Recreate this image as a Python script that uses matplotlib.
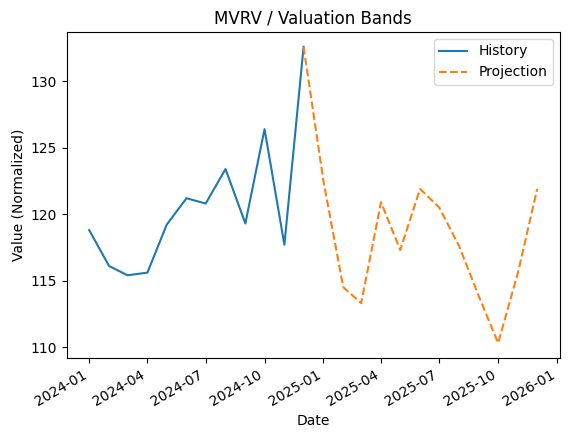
import matplotlib
matplotlib.use("Agg")
import matplotlib.pyplot as plt
import pandas as pd

hist_dates = pd.date_range("2024-01-01", "2024-12-01", freq="MS")
hist_vals = [118.8, 116.1, 115.4, 115.6, 119.2, 121.2, 120.8, 123.4, 119.3, 126.4, 117.7, 132.6]
proj_dates = pd.date_range("2024-12-01", "2025-12-01", freq="MS")
proj_vals = [132.6, 122.5, 114.5, 113.3, 120.9, 117.3, 121.9, 120.5, 117.6, 113.8, 110.3, 115.6, 121.9]

fig, ax = plt.subplots(figsize=(5.71, 4.38), dpi=100)
ax.plot(hist_dates, hist_vals, label="History")
ax.plot(proj_dates, proj_vals, "--", label="Projection")
ax.set_title("MVRV / Valuation Bands")
ax.set_xlabel("Date")
ax.set_ylabel("Value (Normalized)")
ax.legend()
fig.autofmt_xdate()
fig.subplots_adjust(left=0.117, right=0.98, top=0.927, bottom=0.183)
fig.savefig("out.png")
